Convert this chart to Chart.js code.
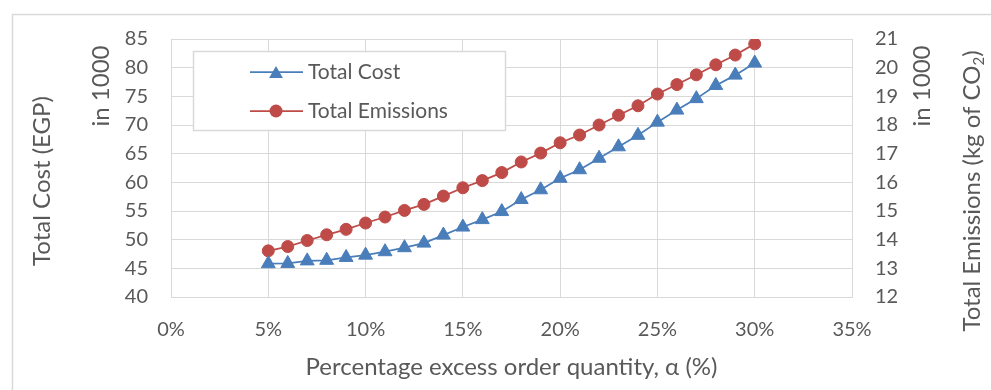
<!DOCTYPE html>
<html>
<head>
<meta charset="utf-8">
<script src="https://cdn.jsdelivr.net/npm/chart.js@4.4.1/dist/chart.umd.min.js"></script>
<style>
  html, body { margin: 0; padding: 0; background: #ffffff; }
  #wrap { width: 991px; height: 390px; position: relative; }
</style>
</head>
<body>
<div id="wrap"><canvas id="chart" width="991" height="390"></canvas></div>
<script>
// Percentage excess order quantity α (%)
const alphaPct = [5, 6, 7, 8, 9, 10, 11, 12, 13, 14, 15, 16, 17, 18, 19, 20, 21, 22, 23, 24, 25, 26, 27, 28, 29, 30];
// Total cost, EGP in 1000
const totalCost = [45.8, 45.85, 46.3, 46.4, 46.9, 47.3, 47.9, 48.6, 49.4, 50.8, 52.2, 53.5, 54.9, 57.0, 58.7, 60.7, 62.2, 64.2, 66.2, 68.2, 70.5, 72.6, 74.6, 76.9, 78.7, 80.8];
// Total emissions, kg of CO2 in 1000
const totalEmissions = [13.61, 13.76, 13.97, 14.17, 14.36, 14.58, 14.79, 15.02, 15.23, 15.52, 15.81, 16.06, 16.34, 16.71, 17.02, 17.38, 17.65, 18.0, 18.34, 18.67, 19.08, 19.41, 19.75, 20.1, 20.44, 20.83];
const seriesNames = ['Total Cost', 'Total Emissions'];

const BLUE = '#4a7ebb';
const RED = '#be4b48';
const GRID = '#d9d9d9';
const TEXT = '#595959';
const FONT = 'Lato, "Open Sans", sans-serif';

// Axis titles, the in-plot legend and the outer frame
const decorations = {
  id: 'decorations',
  beforeDraw(chart) {
    const c = chart.ctx;
    c.save();
    c.fillStyle = '#ffffff';
    c.fillRect(0, 0, chart.width, chart.height);
    c.strokeStyle = GRID;
    c.lineWidth = 1.5;
    c.strokeRect(12.5, 14.5, 1200, 600);
    c.restore();
  },
  afterDatasetsDraw(chart) {
    const c = chart.ctx;
    const area = chart.chartArea;
    c.save();
    c.fillStyle = TEXT;
    c.textBaseline = 'middle';
    c.textAlign = 'center';

    const vText = (parts, x, y) => {
      c.save();
      c.translate(x, y);
      c.rotate(-Math.PI / 2);
      let total = 0;
      parts.forEach(p => { c.font = p.font; total += c.measureText(p.t).width; });
      let pos = -total / 2;
      c.textAlign = 'left';
      parts.forEach(p => {
        c.font = p.font;
        c.fillText(p.t, pos, p.dy || 0);
        pos += c.measureText(p.t).width;
      });
      c.restore();
    };

    const big = '24px ' + FONT;
    const small = '15px ' + FONT;
    vText([{ t: 'Total Cost (EGP)', font: big }], 42, 181);
    vText([{ t: 'in 1000', font: big }], 101, 86);
    vText([{ t: 'in 1000', font: big }], 922, 86);
    vText([
      { t: 'Total Emissions (kg of CO', font: big },
      { t: '2', font: small, dy: 7 },
      { t: ')', font: big }
    ], 972, 191);

    c.font = big;
    c.textAlign = 'center';
    c.fillText('Percentage excess order quantity, \u03b1 (%)', (area.left + area.right) / 2, 367);

    // legend box
    c.fillStyle = '#ffffff';
    c.fillRect(193.5, 51.5, 312, 79);
    c.strokeStyle = GRID;
    c.lineWidth = 1.5;
    c.strokeRect(193.5, 51.5, 312, 79);
    const rows = [72, 111];
    chart.data.datasets.forEach((ds, i) => {
      const y = rows[i];
      c.strokeStyle = ds.borderColor;
      c.lineWidth = ds.borderWidth;
      c.beginPath();
      c.moveTo(250, y);
      c.lineTo(303, y);
      c.stroke();
      c.fillStyle = ds.backgroundColor;
      c.beginPath();
      if (ds.pointStyle === 'triangle') {
        const r = ds.pointRadius;
        c.moveTo(276, y - r + 2);
        c.lineTo(276 + r * Math.sqrt(3) / 2, y + r / 2 + 2);
        c.lineTo(276 - r * Math.sqrt(3) / 2, y + r / 2 + 2);
        c.closePath();
      } else {
        c.arc(276, y, ds.pointRadius + 0.5, 0, Math.PI * 2);
      }
      c.fill();
      c.fillStyle = TEXT;
      c.font = '21px ' + FONT;
      c.textAlign = 'left';
      c.fillText(ds.label, 308, y);
    });
    c.restore();
  }
};

const pct = v => v + '%';

new Chart(document.getElementById('chart').getContext('2d'), {
  type: 'line',
  data: {
    datasets: [
      {
        label: seriesNames[0],
        data: alphaPct.map((a, i) => ({ x: a, y: totalCost[i] })),
        yAxisID: 'y',
        borderColor: BLUE,
        backgroundColor: BLUE,
        borderWidth: 1.75,
        pointStyle: 'triangle',
        pointRadius: 8,
        pointHoverRadius: 8,
        pointBorderWidth: 1,
        tension: 0
      },
      {
        label: seriesNames[1],
        data: alphaPct.map((a, i) => ({ x: a, y: totalEmissions[i] })),
        yAxisID: 'y1',
        borderColor: RED,
        backgroundColor: RED,
        borderWidth: 1.75,
        pointStyle: 'circle',
        pointRadius: 6,
        pointHoverRadius: 6,
        pointBorderWidth: 1,
        tension: 0
      }
    ]
  },
  options: {
    responsive: false,
    animation: false,
    devicePixelRatio: 1,
    layout: { padding: { top: 39, left: 0, right: 0, bottom: 0 } },
    plugins: { legend: { display: false }, tooltip: { enabled: false } },
    scales: {
      x: {
        type: 'linear',
        min: 0,
        max: 35,
        ticks: { stepSize: 5, callback: pct, color: TEXT, font: { family: FONT, size: 20 }, padding: 21, maxRotation: 0, autoSkip: false },
        grid: { color: GRID, lineWidth: 1, drawTicks: false },
        border: { color: GRID, width: 1 },
        afterFit(s) { s.height = 93; }
      },
      y: {
        position: 'left',
        min: 40,
        max: 85,
        ticks: { stepSize: 5, color: TEXT, font: { family: FONT, size: 20 }, padding: 23 },
        grid: { color: GRID, lineWidth: 1, drawTicks: false },
        border: { color: GRID, width: 1 },
        afterFit(s) { s.width = 171; }
      },
      y1: {
        position: 'right',
        min: 12,
        max: 21,
        ticks: { stepSize: 1, color: TEXT, font: { family: FONT, size: 20 }, padding: 23 },
        grid: { drawOnChartArea: false, drawTicks: false },
        border: { color: GRID, width: 1 },
        afterFit(s) { s.width = 139; }
      }
    }
  },
  plugins: [decorations]
});
</script>
</body>
</html>
